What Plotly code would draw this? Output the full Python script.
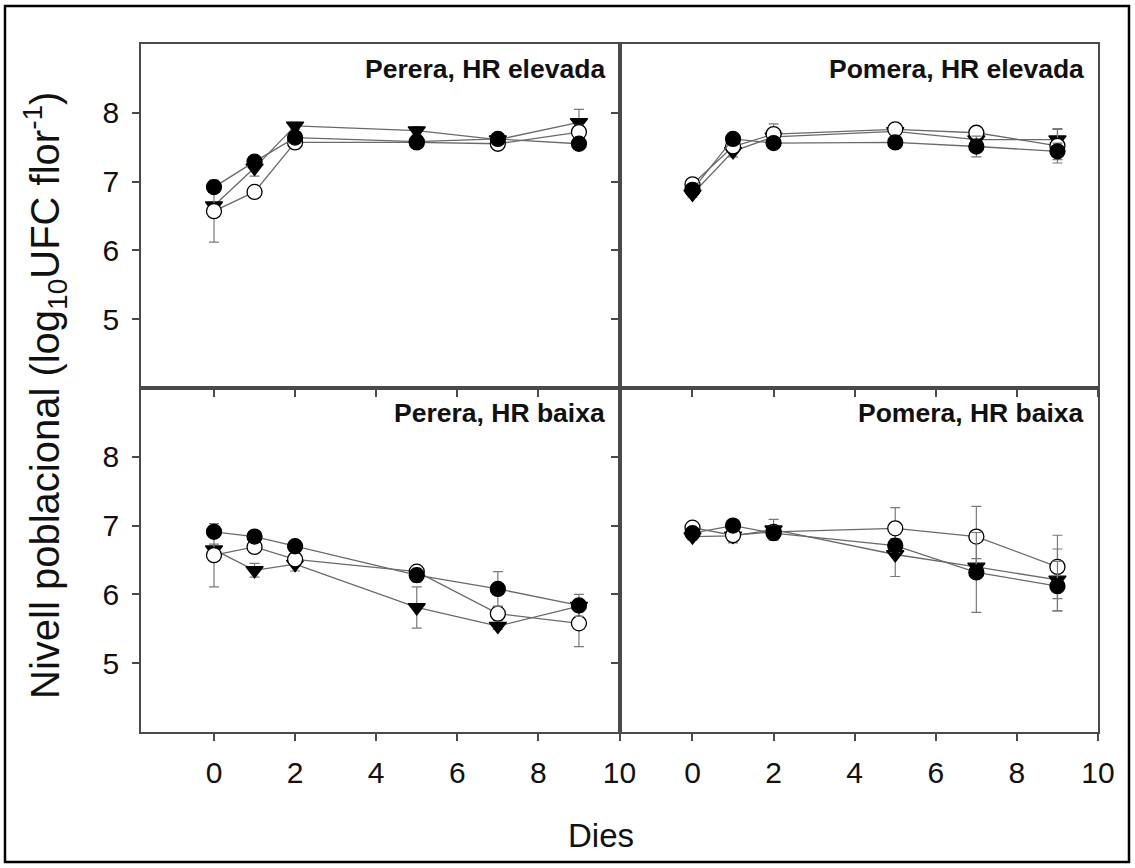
import plotly.graph_objects as go
from plotly.subplots import make_subplots

days = [0, 1, 2, 5, 7, 9]

# Perera, HR elevada
pe_hi_filled = [6.92, 7.29, 7.64, 7.58, 7.62, 7.55]
pe_hi_open = [6.57, 6.85, 7.57, 7.57, 7.55, 7.72]
pe_hi_tri = [6.65, 7.20, 7.81, 7.74, 7.61, 7.86]
pe_hi_filled_err = [0.05, 0.06, 0.05, 0.06, 0.06, 0.08]
pe_hi_open_err = [0.45, 0.05, 0.05, 0.08, 0.08, 0.10]
pe_hi_tri_err = [0.05, 0.12, 0.05, 0.06, 0.05, 0.19]

# Pomera, HR elevada
po_hi_filled = [6.88, 7.62, 7.56, 7.57, 7.51, 7.44]
po_hi_open = [6.96, 7.51, 7.69, 7.76, 7.71, 7.52]
po_hi_tri = [6.82, 7.44, 7.65, 7.73, 7.61, 7.61]
po_hi_filled_err = [0.05, 0.05, 0.05, 0.05, 0.15, 0.12]
po_hi_open_err = [0.05, 0.06, 0.15, 0.05, 0.06, 0.25]
po_hi_tri_err = [0.05, 0.08, 0.08, 0.05, 0.05, 0.15]

# Perera, HR baixa
pe_lo_filled = [6.91, 6.84, 6.70, 6.28, 6.08, 5.84]
pe_lo_open = [6.57, 6.69, 6.51, 6.33, 5.72, 5.58]
pe_lo_tri = [6.65, 6.35, 6.44, 5.81, 5.54, 5.83]
pe_lo_filled_err = [0.05, 0.05, 0.06, 0.10, 0.25, 0.16]
pe_lo_open_err = [0.46, 0.08, 0.08, 0.06, 0.10, 0.34]
pe_lo_tri_err = [0.08, 0.10, 0.10, 0.30, 0.05, 0.08]

# Pomera, HR baixa
po_lo_filled = [6.89, 7.00, 6.89, 6.71, 6.32, 6.12]
po_lo_open = [6.97, 6.86, 6.91, 6.96, 6.84, 6.40]
po_lo_tri = [6.84, 6.85, 6.94, 6.58, 6.40, 6.21]
po_lo_filled_err = [0.05, 0.08, 0.06, 0.10, 0.58, 0.36]
po_lo_open_err = [0.05, 0.08, 0.06, 0.30, 0.44, 0.46]
po_lo_tri_err = [0.05, 0.10, 0.15, 0.32, 0.12, 0.45]

panel_titles = ["Perera, HR elevada", "Pomera, HR elevada", "Perera, HR baixa", "Pomera, HR baixa"]
x_ticks = [0, 2, 4, 6, 8, 10]
y_ticks = [5, 6, 7, 8]

panels = [
    (1, 1, pe_hi_filled, pe_hi_filled_err, pe_hi_open, pe_hi_open_err, pe_hi_tri, pe_hi_tri_err),
    (1, 2, po_hi_filled, po_hi_filled_err, po_hi_open, po_hi_open_err, po_hi_tri, po_hi_tri_err),
    (2, 1, pe_lo_filled, pe_lo_filled_err, pe_lo_open, pe_lo_open_err, pe_lo_tri, pe_lo_tri_err),
    (2, 2, po_lo_filled, po_lo_filled_err, po_lo_open, po_lo_open_err, po_lo_tri, po_lo_tri_err),
]

fig = make_subplots(rows=2, cols=2, horizontal_spacing=0, vertical_spacing=0)

LINE = "#6a6a6a"
ERR = "#7a7a7a"
FONT = "Liberation Sans, Arial"

for (r, c, f, fe, o, oe, t, te) in panels:
    for vals, errs, sym, fill in [(t, te, "triangle-down", "black"),
                                  (o, oe, "circle", "white"),
                                  (f, fe, "circle", "black")]:
        fig.add_trace(go.Scatter(
            x=days, y=vals, mode="lines+markers",
            line=dict(color=LINE, width=1.3),
            marker=dict(symbol=sym, size=15, color=fill,
                        line=dict(color="black", width=1.3)),
            error_y=dict(type="data", array=errs, color=ERR, thickness=1.2, width=5),
            showlegend=False,
        ), row=r, col=c)

axis_common = dict(showline=True, mirror=True, linecolor="#4a4a4a", linewidth=1.6,
                   ticks="outside", ticklen=7, tickcolor="#4a4a4a", tickwidth=1.5,
                   showgrid=False, zeroline=False,
                   tickfont=dict(family=FONT, size=30, color="#111"))

for r in (1, 2):
    for c in (1, 2):
        fig.update_xaxes(range=[-1.8, 10], tickvals=x_ticks, showticklabels=(r == 2),
                         ticklabelstandoff=6, **axis_common, row=r, col=c)
        fig.update_yaxes(range=[4, 9], tickvals=y_ticks, showticklabels=(c == 1),
                         ticklabelstandoff=7, **axis_common, row=r, col=c)

# panel titles
title_pos = [(0.4865, 0.963), (0.987, 0.963), (0.4865, 0.463), (0.987, 0.463)]
for txt, (px, py) in zip(panel_titles, title_pos):
    fig.add_annotation(text="<b>%s</b>" % txt, x=px, y=py, xref="paper", yref="paper",
                       xanchor="right", yanchor="middle", showarrow=False,
                       font=dict(family=FONT, size=26.5, color="#111"))

fig.add_annotation(text="Dies", x=(601 - 141) / 957, y=(732 - 835) / 688,
                   xref="paper", yref="paper", xanchor="center", yanchor="middle",
                   showarrow=False, font=dict(family=FONT, size=33, color="#111"))

fig.add_annotation(text="Nivell poblacional (log<sub>10</sub>UFC flor<sup>-1</sup>)",
                   x=(45 - 141) / 957, y=(732 - 396) / 688, textangle=-90,
                   xref="paper", yref="paper", xanchor="center", yanchor="middle",
                   showarrow=False, font=dict(family=FONT, size=40, color="#111"))

# outer frame
fig.add_shape(type="rect", xref="paper", yref="paper",
              x0=(5 - 141) / 957, x1=(1129 - 141) / 957,
              y0=(732 - 862) / 688, y1=(732 - 6) / 688,
              line=dict(color="black", width=2.5), fillcolor="rgba(0,0,0,0)", layer="above")

fig.update_layout(width=1135, height=868, margin=dict(l=141, r=37, t=44, b=136),
                  paper_bgcolor="white", plot_bgcolor="white")

fig.write_html("out.html", config={"displayModeBar": False},
               post_script="document.body.style.margin='0';document.body.style.overflow='hidden';")
